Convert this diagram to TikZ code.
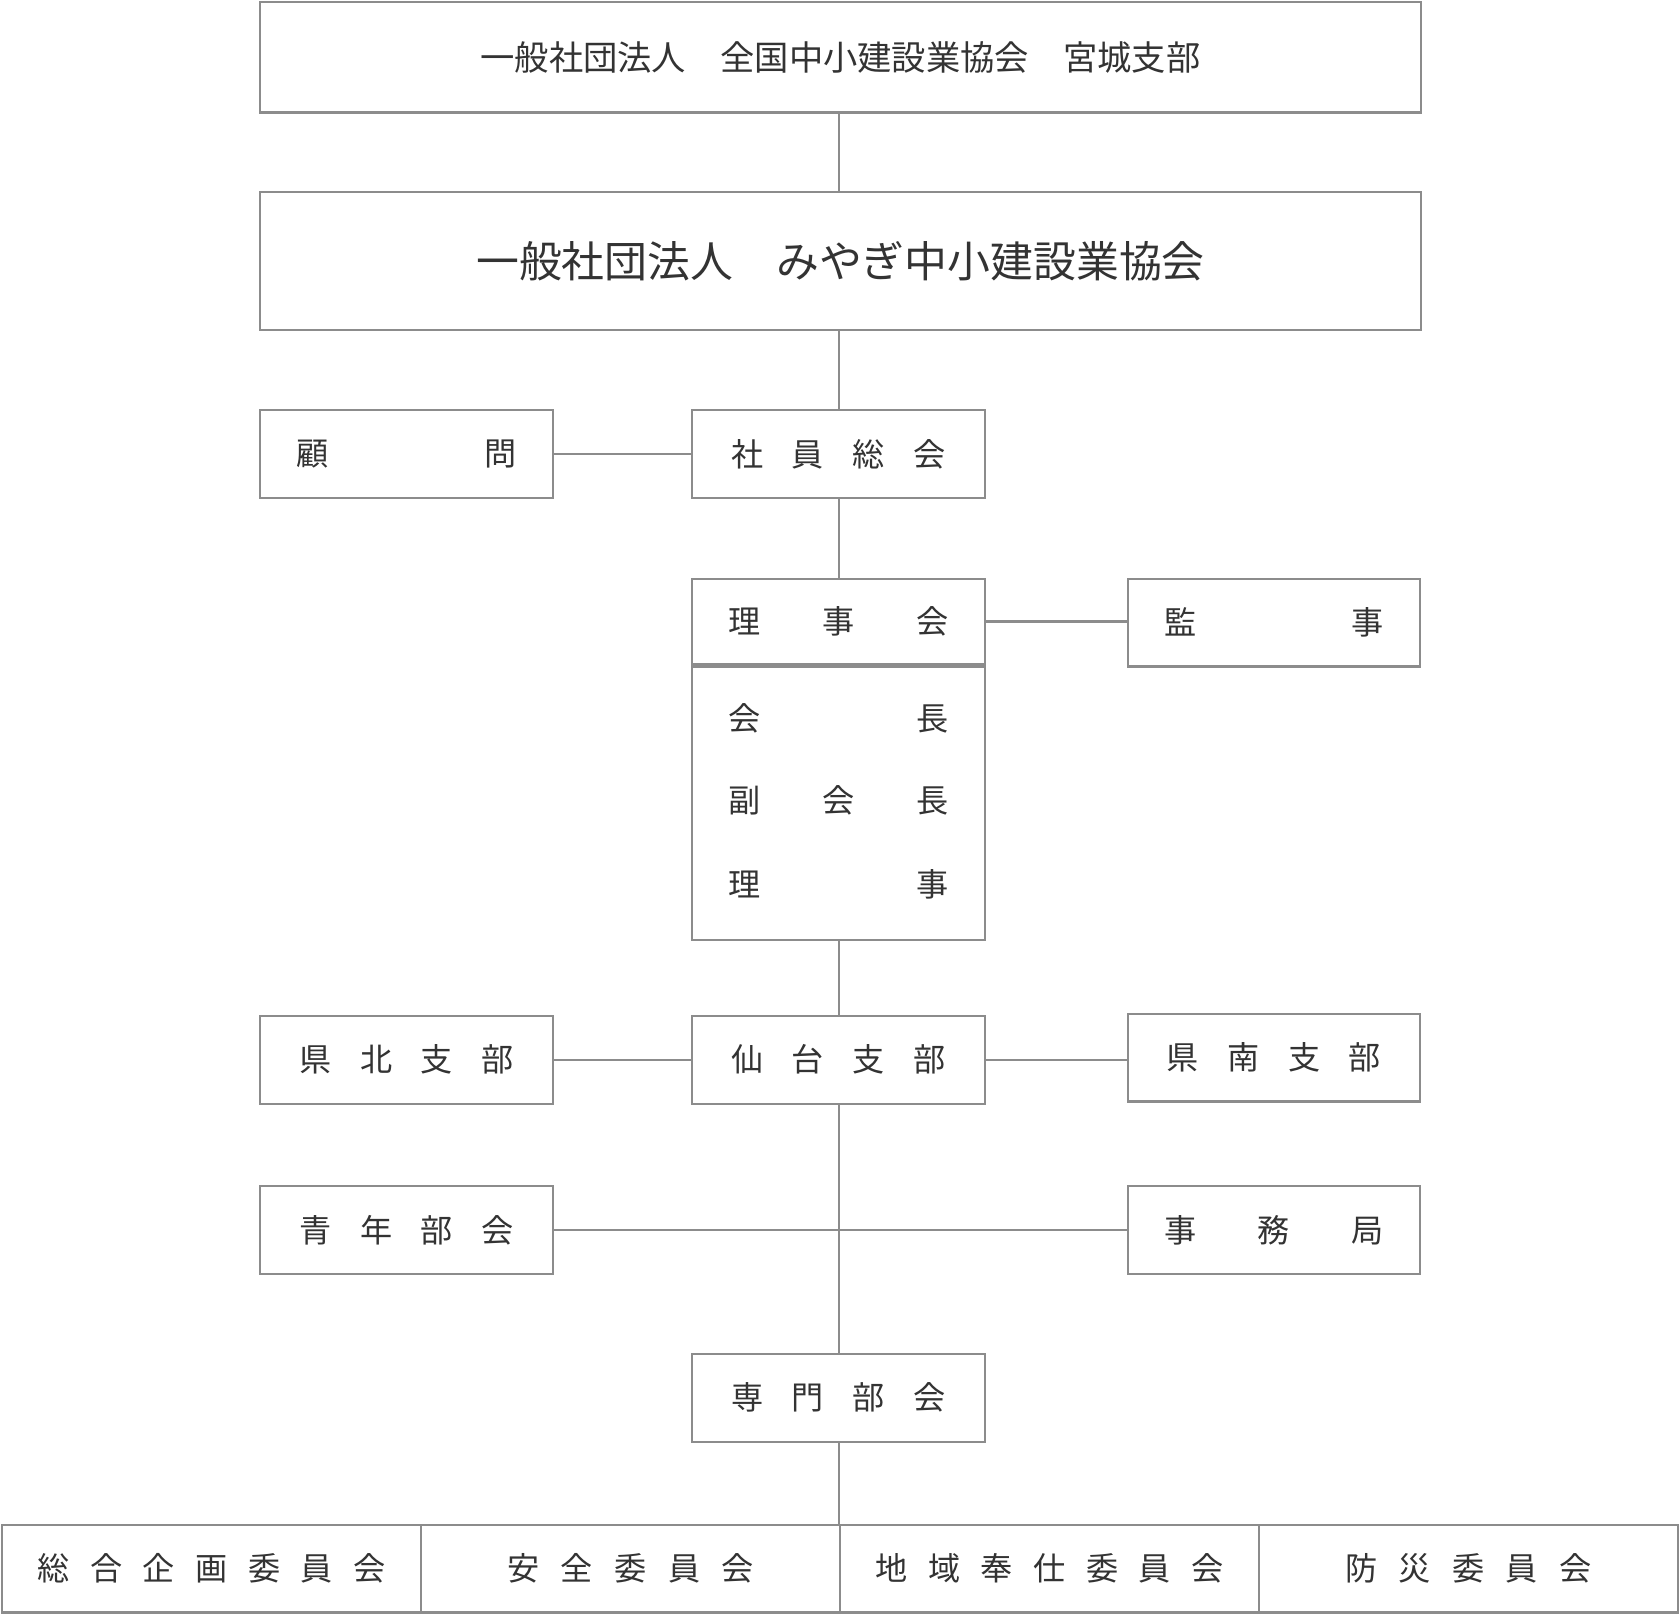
\documentclass[tikz,border=0pt]{standalone}
\usepackage{fontspec}
\setmainfont{Noto Sans CJK JP}
\usetikzlibrary{positioning}
\newcommand{\spread}[2]{\makebox[#1pt]{#2}}
\definecolor{linegray}{HTML}{8C8C8C}
\definecolor{textgray}{HTML}{333333}

\begin{document}
\begin{tikzpicture}[x=1pt,y=-1pt,line width=2pt,
        box/.style={draw=linegray,text=textgray,minimum width=273pt,minimum height=82pt,inner sep=0pt,font=\fontsize{30}{32}\selectfont},
        wide box/.style={box,minimum width=1083pt},
        cell/.style={box,minimum width=391pt},
        link/.style={draw=linegray}]
  \useasboundingbox (0,0) rectangle (1568,1508);
  \node[wide box,minimum height=103pt,font=\fontsize{32}{34}\selectfont] (zenkoku) at (784.5,53.5) {一般社団法人　全国中小建設業協会　宮城支部};
  \node[wide box,minimum height=129pt,font=\fontsize{40}{42}\selectfont] (miyagi) at (784.5,243.5) {一般社団法人　みやぎ中小建設業協会};
  \node[box] (komon) at (379.5,424) {\spread{205}{顧\hfill 問}};
  \node[box] (sokai) at (782.5,424) {\spread{200}{社\hfill 員\hfill 総\hfill 会}};
  \node[box,minimum height=80pt] (rijikai) at (782.5,580) {\spread{205}{理\hfill 事\hfill 会}};
  \node[box,minimum height=255pt,anchor=north] (yakuin) at (rijikai.south) {};
  \node[text=textgray,font=\fontsize{30}{32}\selectfont] at (782.5,670) {\spread{205}{会\hfill 長}};
  \node[text=textgray,font=\fontsize{30}{32}\selectfont] at (782.5,747) {\spread{205}{副\hfill 会\hfill 長}};
  \node[text=textgray,font=\fontsize{30}{32}\selectfont] at (782.5,825) {\spread{205}{理\hfill 事}};
  \node[box] (kanji) at (1189,581) {\spread{205}{監\hfill 事}};
  \node[box] (kenpoku) at (379.5,989) {\spread{200}{県\hfill 北\hfill 支\hfill 部}};
  \node[box] (sendai) at (782.5,989) {\spread{200}{仙\hfill 台\hfill 支\hfill 部}};
  \node[box] (kennan) at (1189,987) {\spread{200}{県\hfill 南\hfill 支\hfill 部}};
  \node[box] (seinen) at (379.5,1148) {\spread{200}{青\hfill 年\hfill 部\hfill 会}};
  \node[box] (jimu) at (1189,1148) {\spread{205}{事\hfill 務\hfill 局}};
  \node[box] (senmon) at (782.5,1304.5) {\spread{200}{専\hfill 門\hfill 部\hfill 会}};
  \node[cell] (sogo) at (197.5,1464) {\spread{325}{総\hfill 合\hfill 企\hfill 画\hfill 委\hfill 員\hfill 会}};
  \node[cell] (anzen) at (588.5,1464) {\spread{230}{安\hfill 全\hfill 委\hfill 員\hfill 会}};
  \node[cell] (chiiki) at (979.5,1464) {\spread{325}{地\hfill 域\hfill 奉\hfill 仕\hfill 委\hfill 員\hfill 会}};
  \node[cell] (bosai) at (1370.5,1464) {\spread{230}{防\hfill 災\hfill 委\hfill 員\hfill 会}};
  \coordinate (mid) at (783,1148);
  % connectors
  \draw[link] (zenkoku.south -| 783,0) -- (miyagi.north -| 783,0);
  \draw[link] (miyagi.south -| 783,0) -- (sokai.north -| 783,0);
  \draw[link] (sokai.south -| 783,0) -- (rijikai.north -| 783,0);
  \draw[link] (yakuin.south -| 783,0) -- (sendai.north -| 783,0);
  \draw[link] (sendai.south -| 783,0) -- (senmon.north -| 783,0);
  \draw[link] (senmon.south -| 783,0) -- (chiiki.north west);
  \draw[link] (komon) -- (sokai);
  \draw[link] (rijikai) -- (kanji.west |- rijikai);
  \draw[link] (kenpoku) -- (sendai);
  \draw[link] (sendai) -- (kennan.west |- sendai);
  \draw[link] (seinen) -- (mid) -- (jimu);
\end{tikzpicture}
\end{document}
